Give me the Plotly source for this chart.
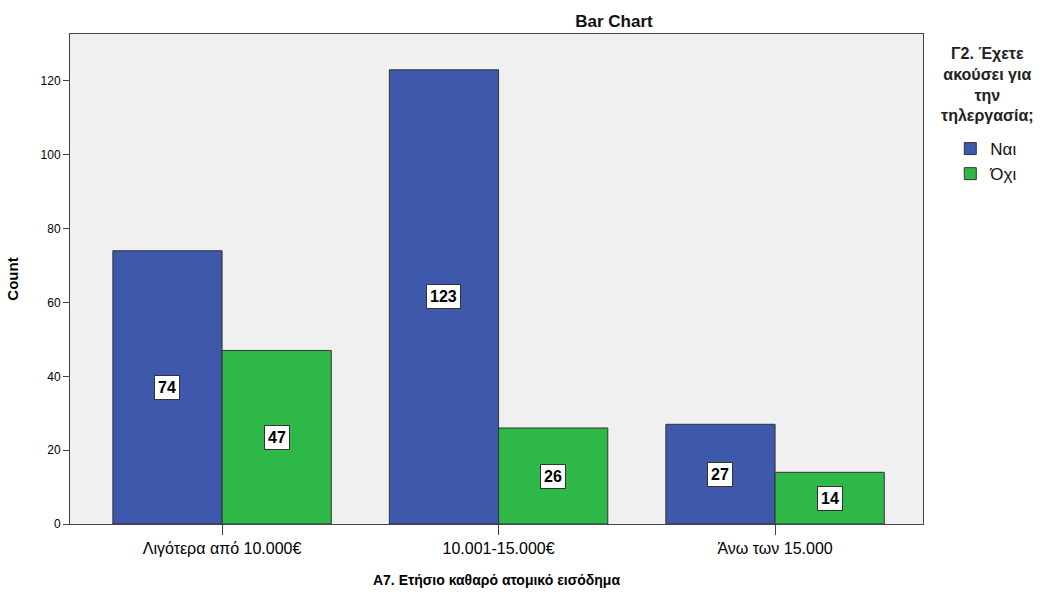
import plotly.graph_objects as go

categories = ["Λιγότερα από 10.000€", "10.001-15.000€", "Άνω των 15.000"]
nai = [74, 123, 27]
ochi = [47, 26, 14]
series_names = ["Ναι", "Όχι"]
y_ticks = [0, 20, 40, 60, 80, 100, 120]
legend_title = "Γ2. Έχετε<br>ακούσει για<br>την<br>τηλεργασία;"

colors = ["#3E58AC", "#2EB848"]
font = "Liberation Sans, Arial, sans-serif"

fig = go.Figure()
for name, vals, col in zip(series_names, [nai, ochi], colors):
    fig.add_trace(go.Bar(
        x=categories, y=vals, name=name,
        marker=dict(color=col, line=dict(color="#333333", width=1)),
    ))

# value labels in white boxes at the vertical middle of each bar
bargap = 0.21
half = (1 - bargap) / 4
for s, vals in enumerate([nai, ochi]):
    for i, v in enumerate(vals):
        fig.add_annotation(
            x=i + (-half if s == 0 else half), y=v / 2, xref="x", yref="y",
            text=f"<b>{v}</b>", showarrow=False,
            font=dict(family=font, size=16, color="black"),
            bgcolor="white", bordercolor="#333333", borderwidth=1, borderpad=3,
        )

# centred legend heading
fig.add_annotation(
    x=1.076, y=0.982, xref="paper", yref="paper",
    xanchor="center", yanchor="top", showarrow=False, align="center",
    text=f"<b>{legend_title}</b>",
    font=dict(family=font, size=16, color="#222222"),
)

fig.update_layout(
    width=1048, height=592,
    margin=dict(l=70, r=125, t=34, b=68),
    paper_bgcolor="white", plot_bgcolor="#F0F0F0",
    barmode="group", bargap=bargap, bargroupgap=0,
    font=dict(family=font, color="black"),
    title=dict(text="<b>Bar Chart</b>", x=614 / 1048, xanchor="center", y=0.965, yanchor="middle",
               font=dict(family=font, size=17, color="#111111")),
    legend=dict(
        x=1.032, xanchor="left", y=0.802, yanchor="top",
        bgcolor="rgba(0,0,0,0)",
        font=dict(family=font, size=17, color="#111111"), itemwidth=30, tracegroupgap=0,
    ),
    xaxis=dict(
        type="category", range=[-0.55, 2.535], automargin=False,
        showline=True, linecolor="#444444", mirror=True, linewidth=1,
        ticks="outside", ticklen=10, tickcolor="#444444",
        tickfont=dict(family=font, size=16),
        title=dict(text="<b>A7. Ετήσιο καθαρό ατομικό εισόδημα</b>",
                   font=dict(family=font, size=14), standoff=18),
        showgrid=False,
    ),
    yaxis=dict(
        range=[0, 132.7], tickvals=y_ticks, automargin=False,
        showline=True, linecolor="#444444", mirror=True, linewidth=1,
        ticks="outside", ticklen=6, tickcolor="#444444",
        tickfont=dict(family=font, size=12),
        title=dict(text="<b>Count</b>", font=dict(family=font, size=15), standoff=18),
        showgrid=False, zeroline=False,
    ),
)

fig.write_html("out.html")
